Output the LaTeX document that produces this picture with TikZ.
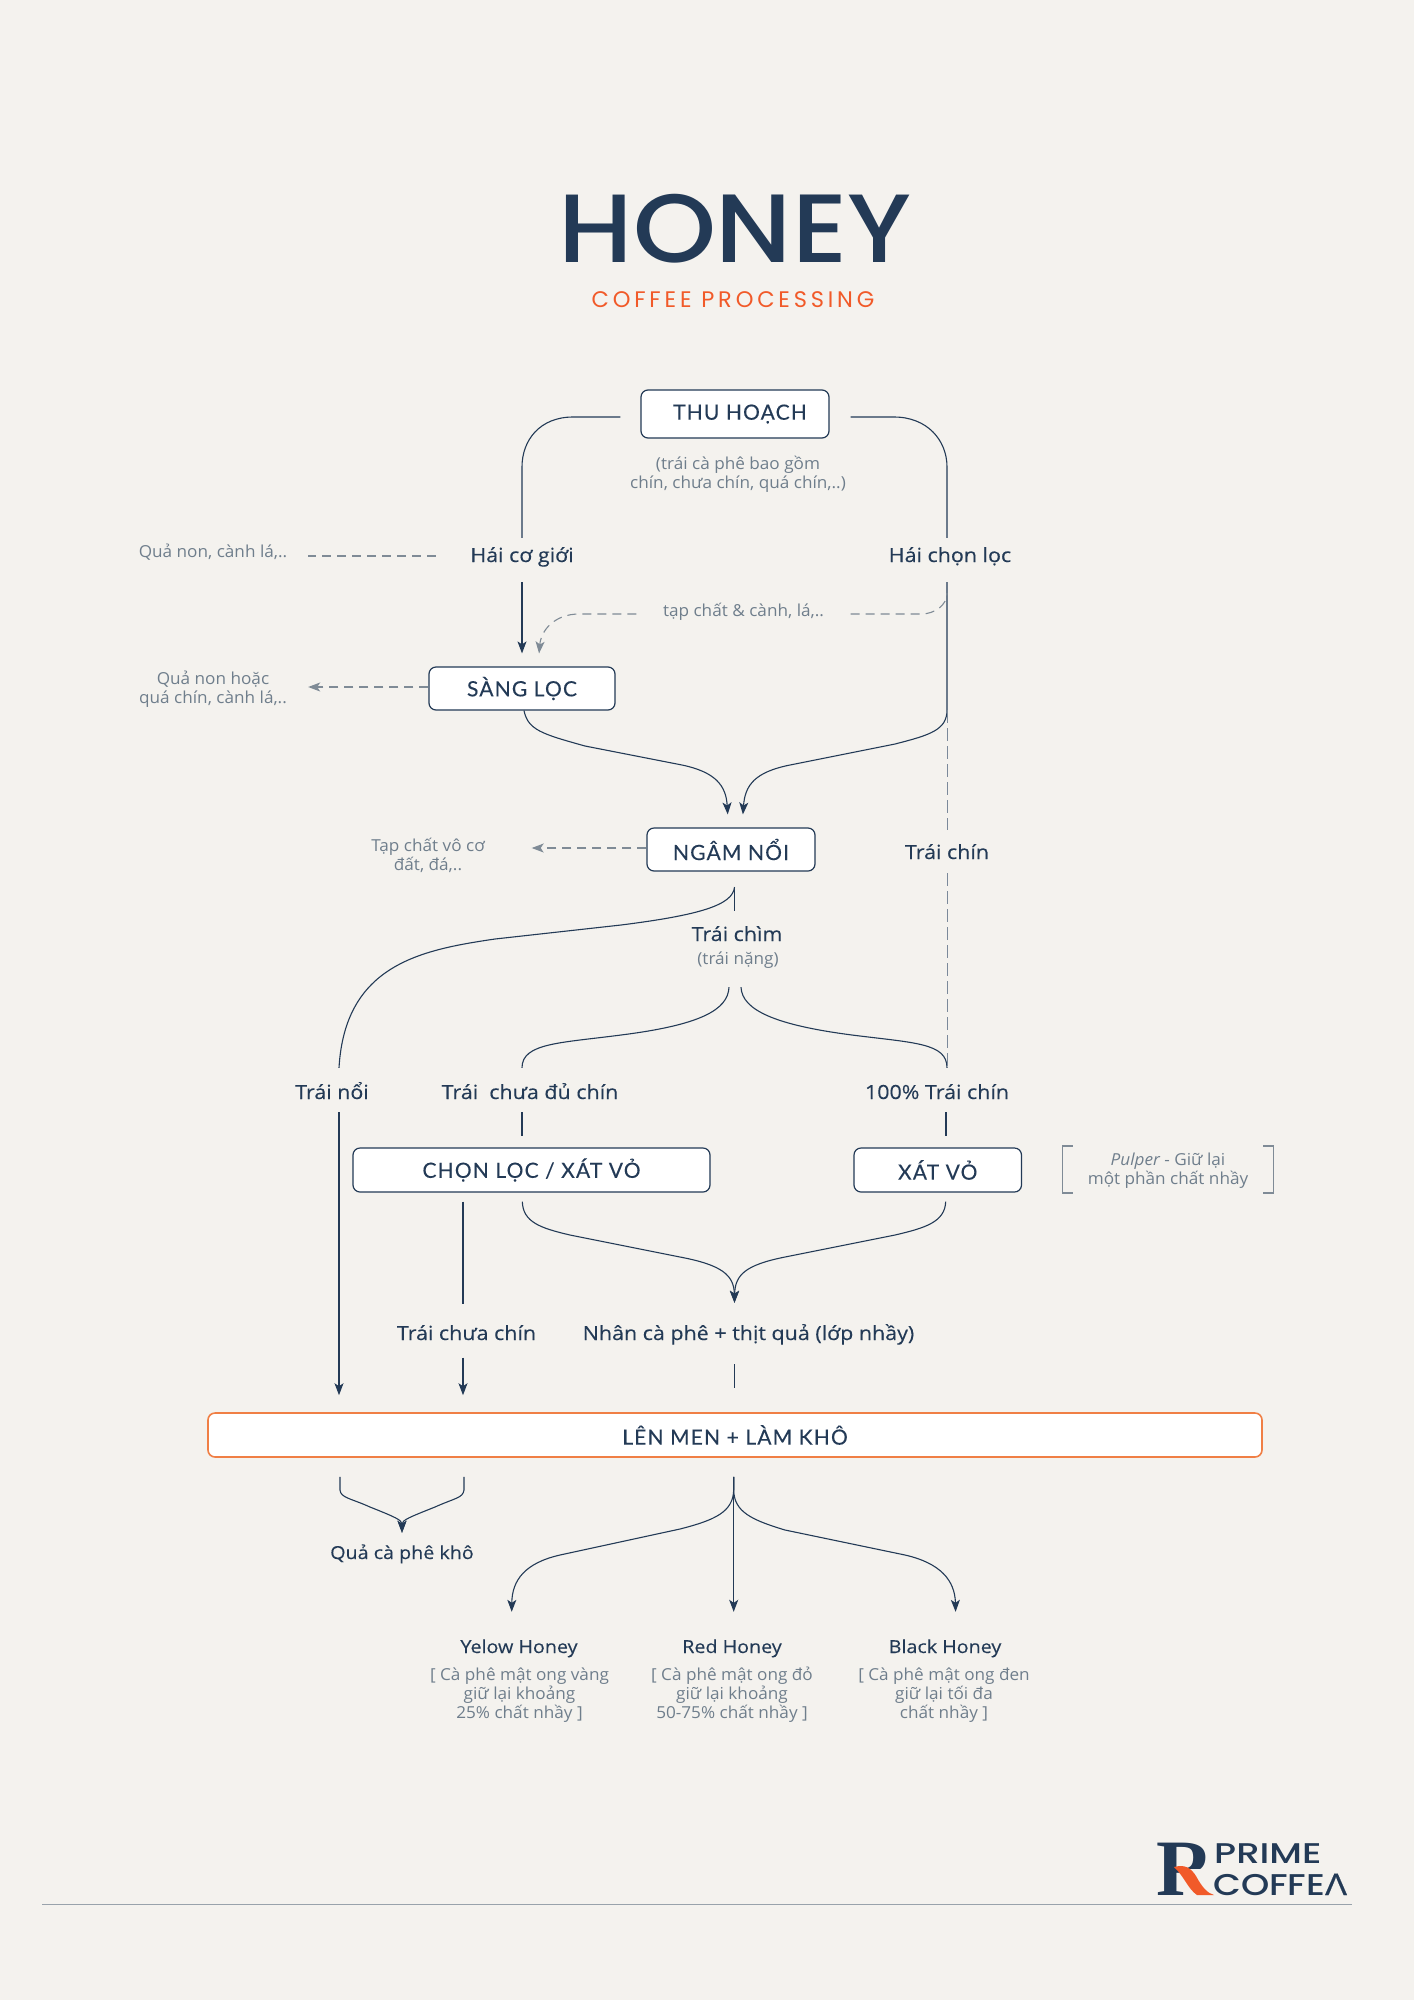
\documentclass[tikz,border=0pt]{standalone}
\usepackage{fontspec}
\setmainfont{Open Sans}
\newfontfamily\bodyf[FakeStretch=1.10,FakeBold=0.25]{Open Sans}
\newfontfamily\notef[FakeStretch=1.04]{Open Sans}
\newfontfamily\boxf[LetterSpace=5.5,FakeBold=0.15]{Lato}
\newfontfamily\titlef[FakeStretch=1.09]{Poppins Medium}
\newfontfamily\subf[LetterSpace=17]{Poppins}
\newfontfamily\logop[FakeStretch=1.3]{Poppins Medium}
\newfontfamily\logoc[FakeStretch=1.2]{Poppins Medium}
\newfontfamily\logog[FakeStretch=1.2,FakeBold=0.6]{Open Sans}
\newfontfamily\logor{Liberation Serif}
\usetikzlibrary{arrows.meta}
\definecolor{navy}{HTML}{233A56}
\definecolor{greyt}{HTML}{6F7E8C}
\definecolor{greyl}{HTML}{7F8B96}
\definecolor{bgc}{HTML}{F4F2EE}
\definecolor{orangeb}{HTML}{F07F45}
\definecolor{orangex}{HTML}{F15A29}
\tikzset{
  x=1pt,y=-1pt,
  boxn/.style={draw=navy,line width=1.2pt,fill=white,rounded corners=7pt,text=navy,inner sep=0pt,
     font=\boxf\fontsize{21}{24}\selectfont},
  lab/.style 2 args={text=navy,font=\bodyf\fontsize{19.5}{22}\selectfont,text height=#1,text depth=#2,inner ysep=0pt,inner xsep=0pt,anchor=base},
  lowlab/.style={font=\bodyf\fontsize{17.9}{22}\selectfont},
  note/.style={text=greyt,font=\notef\fontsize{16.5}{19}\selectfont,align=center,inner sep=0pt},
  conn/.style={draw=navy,line width=1.1pt},
  tip/.style={-{Stealth[length=12pt,width=9pt,inset=3pt]}},
  dashg/.style={draw=greyl,line width=1.1pt,dash pattern=on 9pt off 6pt},
  dashv/.style={draw=navy!60,line width=0.9pt,dash pattern=on 13pt off 5pt},
}
\begin{document}
\begin{tikzpicture}
\useasboundingbox (0,0) rectangle (1414,2000);
\fill[bgc] (0,0) rectangle (1414,2000);

% title
\node[text=navy,font=\titlef\fontsize{97}{97}\selectfont,inner sep=0pt,anchor=base] (title) at (735,262) {HONEY};
\node[text=orangex,font=\subf\fontsize{22.5}{24}\selectfont,inner sep=0pt,anchor=base] (sub) at (733,307) {COFFEE PROCESSING};

% boxes
\node[boxn,minimum width=188pt,minimum height=48pt] (thu) at (735,414) {\hspace*{10pt}\raisebox{-3.5pt}{THU HOẠCH}};
\node[boxn,minimum width=186pt,minimum height=43pt] (sang) at (522,688.5) {\raisebox{-3.5pt}{SÀNG LỌC}};
\node[boxn,minimum width=168pt,minimum height=43pt] (ngam) at (731,849.5) {NGÂM NỔI};
\node[boxn,minimum width=357pt,minimum height=44pt] (chon) at (531.5,1170) {\raisebox{-3.5pt}{CHỌN LỌC / XÁT VỎ}};
\node[boxn,minimum width=167.5pt,minimum height=44pt] (xat) at (937.75,1170) {\raisebox{-1pt}{XÁT VỎ}};
\node[boxn,draw=orangeb,line width=1.6pt,minimum width=1054pt,minimum height=44pt] (len) at (735,1435) {\raisebox{-1pt}{LÊN MEN + LÀM KHÔ}};

% labels on the flow
\node[lab={24pt}{20pt},minimum width=172pt] (haico) at (522,562) {Hái cơ giới};
\node[lab={24pt}{20pt}] (haichon) at (950,562) {Hái chọn lọc};
\node[lab={29pt}{14pt}] (traichin) at (947,859) {Trái chín};
\node[lab={30pt}{6pt}] (traichim) at (737,941) {Trái chìm};
\node[lab={6pt}{23pt},text=greyt,font=\notef\fontsize{16.5}{19}\selectfont] (trainang) at (738,964) {(trái nặng)};
\node[lab={31pt}{13pt}] (trainoi) at (332,1099) {Trái nổi};
\node[lab={31pt}{13pt}] (chuadu) at (530,1099) {Trái\ \ chưa đủ chín};
\node[lab={31pt}{13pt}] (tram) at (937,1099) {100\% Trái chín};
\node[lab={36pt}{17.5pt}] (chuachin) at (466.5,1340) {Trái chưa chín};
\node[lab={37pt}{24pt}] (nhan) at (748.5,1340) {Nhân cà phê + thịt quả (lớp nhầy)};
\node[lab={26pt}{6pt},lowlab] (kho) at (402,1559) {Quả cà phê khô};
\node[lab={41pt}{6pt},lowlab] (yel) at (519,1653) {Yelow Honey};
\node[lab={41pt}{6pt},lowlab] (red) at (732,1653) {Red Honey};
\node[lab={41pt}{6pt},lowlab] (bla) at (945,1653) {Black Honey};

% grey notes
\node[note] (trai) at (738,474.3) {(trái cà phê bao gồm\\chín, chưa chín, quá chín,..)};
\node[note,minimum width=190pt] (quanon) at (213,552) {Quả non, cành lá,..};
\node[note,minimum width=214pt] (tapcanh) at (743.5,612) {tạp chất \& cành, lá,..};
\node[note,minimum width=190pt] (quahoac) at (213,689.5) {Quả non hoặc\\quá chín, cành lá,..};
\node[note,minimum width=207pt] (tap) at (428,855.5) {Tạp chất vô cơ\\đất, đá,..};
\node[note,minimum width=210pt,minimum height=46.5pt] (pulper) at (1168,1170.5) {{\itshape Pulper} - Giữ lại\\một phần chất nhầy};
\node[note] (yelsub) at (519.5,1695) {[ Cà phê mật ong vàng\\giữ lại khoảng\\25\% chất nhầy ]};
\node[note] (redsub) at (732,1695) {[ Cà phê mật ong đỏ\\giữ lại khoảng\\50-75\% chất nhầy ]};
\node[note] (blasub) at (944,1695) {[ Cà phê mật ong đen\\giữ lại tối đa\\chất nhầy ]};

% solid connectors
\draw[conn,shorten <=20pt] ([yshift=-3pt]thu.west) -- (573,417) .. controls (540,417) and (522,440) .. (522,467) -- (haico.north);
\draw[conn,shorten <=21pt] ([yshift=-3pt]thu.east) -- (894,417) .. controls (927,417) and (947,440) .. (947,467) -- ([xshift=-3pt]haichon.north);
\draw[conn,tip,shorten >=13pt] (haico.south) -- (sang.north);
\draw[conn,tip,shorten >=13pt] ([xshift=2pt]sang.south) .. controls (528,730) and (542,734) .. (585,746) -- (682,765) .. controls (715,772) and (726,785) .. ([xshift=-2.5pt]ngam.north);
\draw[conn,tip,shorten >=13pt] ([xshift=-3pt]haichon.south) -- (947,710) .. controls (947,730) and (930,735) .. (895,744) -- (790,765) .. controls (755,772) and (745,785) .. ([xshift=11pt]ngam.north);
\draw[conn,shorten <=16pt] ([xshift=3.5pt]ngam.south) -- ([xshift=-2.5pt]traichim.north);
\draw[conn] (734.5,887) .. controls (733,905) and (700,915) .. (621,925) -- (495,939) .. controls (420,950) and (345,965) .. ([xshift=7pt]trainoi.north);
\draw[conn] ([xshift=-9pt]trainang.south) .. controls (728,1010) and (700,1025) .. (621,1035) .. controls (560,1043) and (522,1043) .. ([xshift=-8pt]chuadu.north);
\draw[conn] ([xshift=3pt]trainang.south) .. controls (742,1010) and (775,1025) .. (852,1035) .. controls (915,1043) and (947,1043) .. ([xshift=10pt]tram.north);
\draw[conn,tip,shorten >=17pt] ([xshift=7pt]trainoi.south) -- ([xshift=-396pt]len.north);
\draw[conn,shorten >=11pt] ([xshift=-8pt]chuadu.south) -- ([xshift=-9.5pt]chon.north);
\draw[conn,shorten >=11pt] ([xshift=9pt]tram.south) -- ([xshift=8.25pt]xat.north);
\draw[conn,shorten <=9pt] ([xshift=-68.5pt]chon.south) -- ([xshift=-3.5pt]chuachin.north);
\draw[conn,tip,shorten >=17pt] ([xshift=-3.5pt]chuachin.south) -- ([xshift=-272pt]len.north);
\draw[conn,tip,shorten <=9pt] ([xshift=-9.5pt]chon.south) .. controls (523,1222) and (540,1228) .. (570,1235) -- (680,1257) .. controls (722,1265) and (734,1275) .. ([xshift=-14pt]nhan.north);
\draw[conn,tip,shorten <=9pt] ([xshift=8.25pt]xat.south) .. controls (945,1222) and (925,1228) .. (895,1235) -- (785,1257) .. controls (745,1265) and (735,1275) .. ([xshift=-14pt]nhan.north);
\draw[conn,shorten >=24pt] ([xshift=-14pt]nhan.south) -- ([xshift=-0.5pt]len.north);
\draw[conn,tip,shorten <=19pt] ([xshift=-395pt]len.south) -- (340,1490) .. controls (341,1498) and (350,1498) .. (370,1507) .. controls (395,1517) and (402,1520) .. (kho.north);
\draw[conn,tip,shorten <=19pt] ([xshift=-271pt]len.south) -- (464,1490) .. controls (463,1498) and (455,1498) .. (435,1507) .. controls (410,1517) and (402,1520) .. (kho.north);
\draw[conn,tip,shorten <=19pt] ([xshift=-1.3pt]len.south) -- ([xshift=1.7pt]red.north);
\draw[conn,tip,shorten <=19pt] ([xshift=-1.3pt]len.south) -- (733.7,1490) .. controls (733,1512) and (715,1520) .. (680,1529) -- (560,1555) .. controls (525,1563) and (512,1580) .. ([xshift=-7.3pt]yel.north);
\draw[conn,tip,shorten <=19pt] ([xshift=-1.3pt]len.south) -- (733.7,1490) .. controls (734,1512) and (752,1520) .. (785,1530) -- (905,1555) .. controls (940,1563) and (955,1580) .. ([xshift=10.6pt]bla.north);

% dashed connectors
\draw[dashg] ([yshift=4pt]haico.west) -- ([yshift=-4pt]quanon.east);
\draw[dashg,tip] ([yshift=1.5pt]sang.west) -- ([yshift=2.5pt]quahoac.east);
\draw[dashg,tip] ([yshift=1.5pt]ngam.west) -- ([yshift=7.5pt]tap.east);
\draw[dashg,tip,shorten >=13pt] ([yshift=-2pt]tapcanh.west) -- (579,614) .. controls (555,614) and (541,630) .. ([xshift=16pt]sang.north);
\draw[dashg] ([yshift=-2pt]tapcanh.east) -- (921,614) .. controls (935,614) and (947,605) .. ([xshift=-3pt,yshift=-11pt]haichon.south);
\draw[dashv,shorten <=128pt] ([xshift=-3pt]haichon.south) -- (traichin.north);
\draw[dashv] (traichin.south) -- ([xshift=10pt]tram.north);

% pulper brackets
\draw[greyl,line width=1.2pt] ([xshift=10pt,yshift=1pt]pulper.north west) -- ([yshift=1pt]pulper.north west) -- ([yshift=1pt]pulper.south west) -- ([xshift=10pt,yshift=1pt]pulper.south west);
\draw[greyl,line width=1.2pt] ([xshift=-10pt,yshift=1pt]pulper.north east) -- ([yshift=1pt]pulper.north east) -- ([yshift=1pt]pulper.south east) -- ([xshift=-10pt,yshift=1pt]pulper.south east);

% footer
\draw[draw=greyl!80,line width=1.4pt] (42,1904.5) -- (1352,1904.5);
\node[text=navy,font=\logor\bfseries\fontsize{80}{80}\selectfont,inner sep=0pt,anchor=base west] (logor) at (1156,1895) {R};
\fill[bgc] (1185,1869) rectangle (1218,1897);
\fill[orangex] (1174,1867) .. controls (1185,1864) and (1191,1868) .. (1196,1876) .. controls (1202,1887) and (1207,1893) .. (1214,1895) -- (1197,1895) .. controls (1188,1889) and (1184,1876) .. cycle;
\node[text=navy,font=\logop\fontsize{28.5}{30}\selectfont,inner sep=0pt,anchor=base west] (prime) at (1214,1863) {PRIME};
\node[text=navy,font=\logoc\fontsize{30}{33}\selectfont,inner sep=0pt,anchor=base west] (coffee) at (1213,1895) {COFFE{\logog Λ}};
\end{tikzpicture}
\end{document}
